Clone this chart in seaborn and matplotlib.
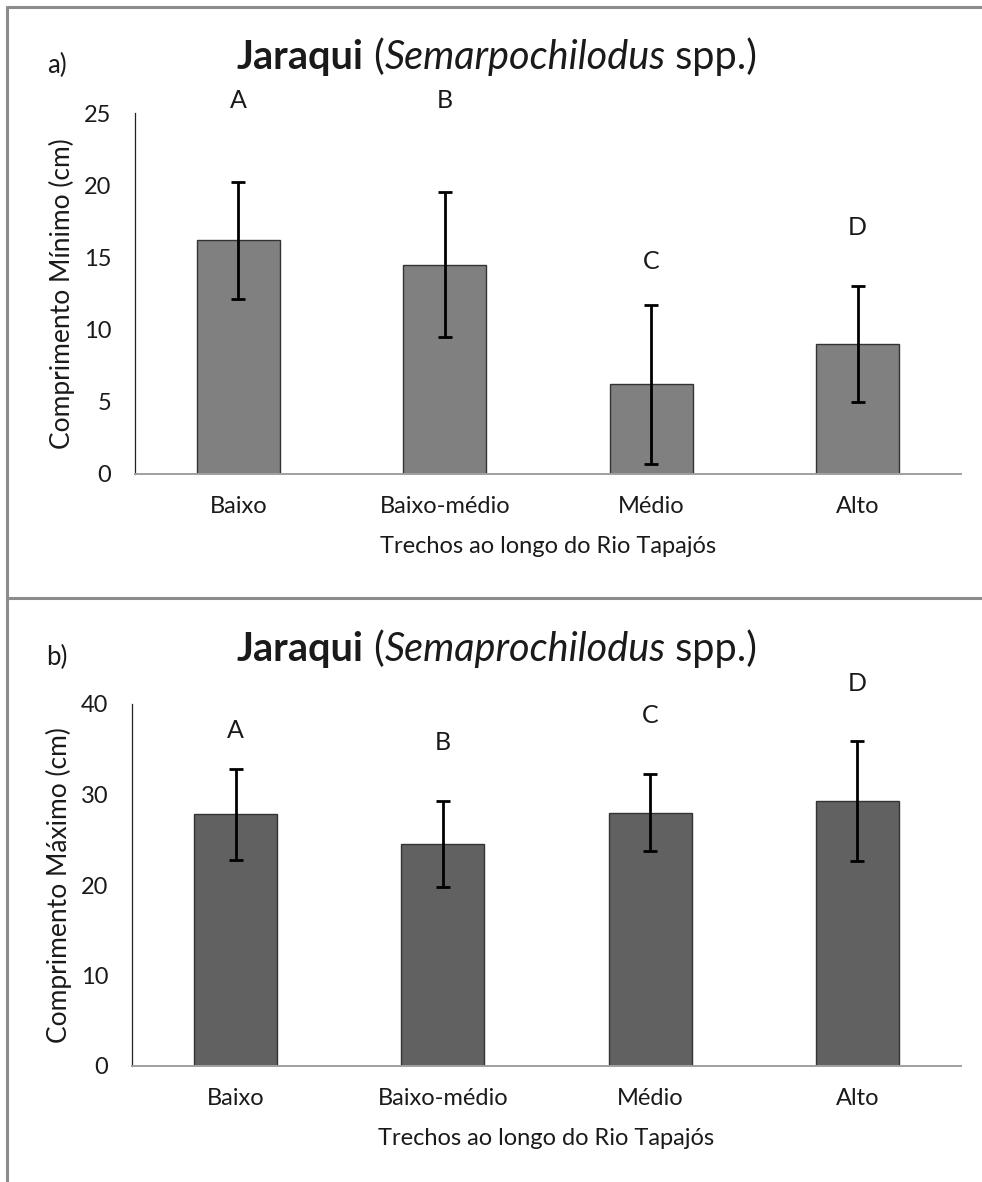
import numpy as np
import matplotlib
matplotlib.use('Agg')
import matplotlib.pyplot as plt
from matplotlib.lines import Line2D
from matplotlib.text import Annotation
import seaborn as sns

# data
trechos = ['Baixo', 'Baixo-médio', 'Médio', 'Alto']
comp_min = [16.2, 14.5, 6.2, 9.0]
comp_min_sd = [4.05, 5.0, 5.5, 4.0]
comp_max = [27.8, 24.5, 28.0, 29.3]
comp_max_sd = [5.0, 4.75, 4.25, 6.6]
letras = ['A', 'B', 'C', 'D']
letras_y_min = [25.9, 25.9, 14.7, 17.1]
letras_y_max = [37.1, 35.8, 38.7, 42.3]

sns.set_style('white')
plt.rcParams['font.family'] = ['Lato', 'DejaVu Sans']

W, H = 982, 1182
fig = plt.figure(figsize=(W / 100, H / 100), dpi=100)


def fx(px):
    return px / W


def fy(py):
    return 1 - py / H


# gray frames around both panels
frame = dict(color='#8c8c8c', lw=2.2, transform=fig.transFigure)
fig.add_artist(Line2D([fx(7), 1], [fy(7), fy(7)], **frame))
fig.add_artist(Line2D([fx(7), fx(7)], [fy(7), 0], **frame))
fig.add_artist(Line2D([fx(7), 1], [fy(598), fy(598)], **frame))

TXT = '#1a1a1a'


def titulo(y_px, especie, letra):
    # mixed bold / italic title, centred afterwards
    t0 = fig.text(0.2, fy(y_px), 'Jaraqui', fontsize=28.5, fontweight='bold',
                  va='center', color=TXT)
    parts = [t0]
    prev = t0
    for s, st in [(' (', 'normal'), (especie, 'italic'), (' spp.)', 'normal')]:
        ann = Annotation(s, xy=(1, 0), xycoords=prev, va='bottom', ha='left',
                         fontsize=28.5, fontstyle=st, color=TXT, annotation_clip=False)
        fig.add_artist(ann)
        parts.append(ann)
        prev = ann
    fig.text(fx(57), fy(y_px + 7), letra, fontsize=18.5, ha='center', va='center', color=TXT)
    return parts


def painel(rect, valores, sd, letras_y, cor, ylim, yticks, ylabel):
    ax = fig.add_axes(rect)
    sns.barplot(x=trechos, y=valores, color=cor, saturation=1, width=0.4,
                edgecolor='#333333', linewidth=1.0, errorbar=None, ax=ax)
    pos = np.arange(len(trechos))
    ax.errorbar(pos, valores, yerr=sd, fmt='none', ecolor='black',
                elinewidth=2.0, capsize=5, capthick=2.0, zorder=5)
    for p, l, yl in zip(pos, letras, letras_y):
        ax.text(p, yl, l, ha='center', va='center', fontsize=18, color=TXT, clip_on=False)
    ax.set_xlim(-0.5, 3.5)
    ax.set_ylim(*ylim)
    ax.set_yticks(yticks)
    sns.despine(ax=ax)
    ax.spines['left'].set_color('#222222')
    ax.spines['left'].set_linewidth(0.9)
    ax.spines['bottom'].set_color('#a0a0a0')
    ax.spines['bottom'].set_linewidth(1.4)
    ax.tick_params(axis='y', length=0, pad=17, labelsize=17, labelcolor=TXT)
    ax.tick_params(axis='x', length=0, pad=16, labelsize=17, labelcolor=TXT)
    ax.set_ylabel(ylabel, fontsize=19, color=TXT)
    ax.set_xlabel('Trechos ao longo do Rio Tapajós', fontsize=17, color=TXT)
    ax.yaxis.set_label_coords(-0.088, 0.5)
    ax.xaxis.set_label_coords(0.5, -0.2)
    ax.xaxis.label.set_va('center')
    ax.yaxis.label.set_va('center')
    return ax


ax_a = painel([fx(135), fy(474), fx(961) - fx(135), fy(113) - fy(474)],
              comp_min, comp_min_sd, letras_y_min, '#808080', (0, 25),
              [0, 5, 10, 15, 20, 25], 'Comprimento Mínimo (cm)')
ax_b = painel([fx(132), fy(1066), fx(961) - fx(132), fy(704) - fy(1066)],
              comp_max, comp_max_sd, letras_y_max, '#616161', (0, 40),
              [0, 10, 20, 30, 40], 'Comprimento Máximo (cm)')

tit_a = titulo(58, 'Semarpochilodus', 'a)')
tit_b = titulo(650, 'Semaprochilodus', 'b)')

# centre the composite titles on x = 497 px
fig.canvas.draw()
r = fig.canvas.get_renderer()
for parts in (tit_a, tit_b):
    x0 = parts[0].get_window_extent(r).x0
    x1 = parts[-1].get_window_extent(r).x1
    shift = 497 - (x0 + x1) / 2
    px, py = parts[0].get_position()
    parts[0].set_position((px + shift / W, py))

fig.savefig('out.png', dpi=100)
